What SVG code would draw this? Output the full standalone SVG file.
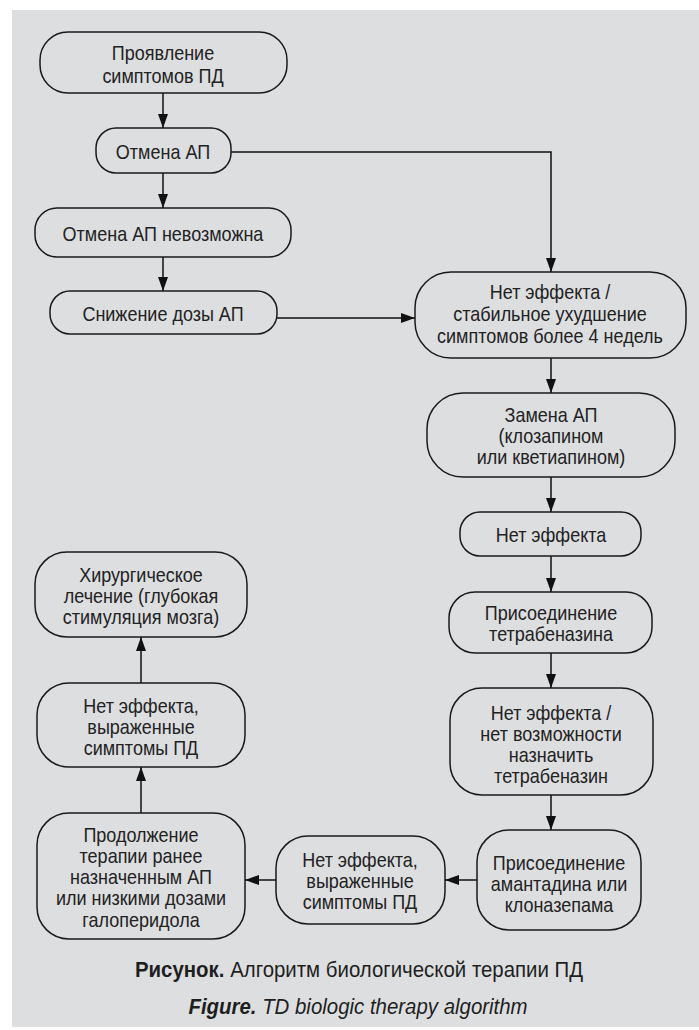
<svg xmlns="http://www.w3.org/2000/svg" width="699" height="1030" viewBox="0 0 699 1030">
<defs>
<marker id="ah" viewBox="0 0 14 10" refX="14" refY="5" markerWidth="14" markerHeight="10" markerUnits="userSpaceOnUse" orient="auto">
<path d="M0,0 L14,5 L0,10 z" fill="#111"/>
</marker>
<style>
.n{fill:#dddee0;stroke:#1a1a1a;stroke-width:1.5}
.t{font-family:"Liberation Sans",Arial,sans-serif;font-size:20px;fill:#222;text-anchor:middle}
.c{fill:none;stroke:#111;stroke-width:1.5}
.cap{font-family:"Liberation Sans",Arial,sans-serif;font-size:21.5px;fill:#1e1e1e;text-anchor:middle}
</style>
</defs>
<rect x="0" y="0" width="699" height="1030" fill="#ffffff"/>
<rect x="12" y="10" width="687" height="1017" fill="#dddee0"/>
<g id="connectors">
<path class="c" d="M163,93 V128" marker-end="url(#ah)"/>
<path class="c" d="M163,173 V208" marker-end="url(#ah)"/>
<path class="c" d="M163,257 V291" marker-end="url(#ah)"/>
<path class="c" d="M231,152 H551 V272" marker-end="url(#ah)"/>
<path class="c" d="M277,318 H415" marker-end="url(#ah)"/>
<path class="c" d="M551,358 V393" marker-end="url(#ah)"/>
<path class="c" d="M551,477 V512" marker-end="url(#ah)"/>
<path class="c" d="M551,556 V592" marker-end="url(#ah)"/>
<path class="c" d="M551,653 V688" marker-end="url(#ah)"/>
<path class="c" d="M551,795 V830" marker-end="url(#ah)"/>
<path class="c" d="M477,880 H445" marker-end="url(#ah)"/>
<path class="c" d="M276,880 H245" marker-end="url(#ah)"/>
<path class="c" d="M141,813 V767" marker-end="url(#ah)"/>
<path class="c" d="M141,683 V637" marker-end="url(#ah)"/>
</g>
<g id="n1"><rect class="n" x="40" y="32" width="247" height="61" rx="28"/>
<text class="t" transform="translate(163,0) scale(0.9,1)" y="60">Проявление</text><text class="t" transform="translate(163,0) scale(0.9,1)" y="83">симптомов ПД</text></g>
<g id="n2"><rect class="n" x="96" y="128" width="135" height="45" rx="20"/>
<text class="t" transform="translate(163,0) scale(0.9,1)" y="159">Отмена АП</text></g>
<g id="n3"><rect class="n" x="35" y="208" width="256" height="49" rx="22"/>
<text class="t" transform="translate(163,0) scale(0.9,1)" y="241">Отмена АП невозможна</text></g>
<g id="n4"><rect class="n" x="50" y="291" width="227" height="43" rx="20"/>
<text class="t" transform="translate(163,0) scale(0.9,1)" y="321">Снижение дозы АП</text></g>
<g id="n5"><rect class="n" x="415" y="272" width="271" height="86" rx="36"/>
<text class="t" transform="translate(550,0) scale(0.9,1)" y="299">Нет эффекта /</text><text class="t" transform="translate(550,0) scale(0.9,1)" y="321">стабильное ухудшение</text><text class="t" transform="translate(550,0) scale(0.9,1)" y="343">симптомов более 4 недель</text></g>
<g id="n6"><rect class="n" x="427" y="393" width="248" height="84" rx="36"/>
<text class="t" transform="translate(551,0) scale(0.9,1)" y="422">Замена АП</text><text class="t" transform="translate(551,0) scale(0.9,1)" y="443">(клозапином</text><text class="t" transform="translate(551,0) scale(0.9,1)" y="464">или кветиапином)</text></g>
<g id="n7"><rect class="n" x="460" y="512" width="181" height="44" rx="20"/>
<text class="t" transform="translate(551,0) scale(0.9,1)" y="542">Нет эффекта</text></g>
<g id="n8"><rect class="n" x="449" y="592" width="203" height="61" rx="26"/>
<text class="t" transform="translate(551,0) scale(0.9,1)" y="620">Присоединение</text><text class="t" transform="translate(551,0) scale(0.9,1)" y="641">тетрабеназина</text></g>
<g id="n9"><rect class="n" x="450" y="688" width="203" height="107" rx="32"/>
<text class="t" transform="translate(551,0) scale(0.9,1)" y="720">Нет эффекта /</text><text class="t" transform="translate(551,0) scale(0.9,1)" y="741">нет возможности</text><text class="t" transform="translate(551,0) scale(0.9,1)" y="762">назначить</text><text class="t" transform="translate(551,0) scale(0.9,1)" y="783">тетрабеназин</text></g>
<g id="n10"><rect class="n" x="477" y="830" width="164" height="100" rx="32"/>
<text class="t" transform="translate(559,0) scale(0.9,1)" y="870">Присоединение</text><text class="t" transform="translate(559,0) scale(0.9,1)" y="891">амантадина или</text><text class="t" transform="translate(559,0) scale(0.9,1)" y="912">клоназепама</text></g>
<g id="n11"><rect class="n" x="276" y="836" width="169" height="88" rx="32"/>
<text class="t" transform="translate(360,0) scale(0.9,1)" y="867">Нет эффекта,</text><text class="t" transform="translate(360,0) scale(0.9,1)" y="888">выраженные</text><text class="t" transform="translate(360,0) scale(0.9,1)" y="909">симптомы ПД</text></g>
<g id="n12"><rect class="n" x="37" y="813" width="208" height="126" rx="32"/>
<text class="t" transform="translate(141,0) scale(0.9,1)" y="842">Продолжение</text><text class="t" transform="translate(141,0) scale(0.9,1)" y="863">терапии ранее</text><text class="t" transform="translate(141,0) scale(0.9,1)" y="884">назначенным АП</text><text class="t" transform="translate(141,0) scale(0.9,1)" y="905">или низкими дозами</text><text class="t" transform="translate(141,0) scale(0.9,1)" y="927">галоперидола</text></g>
<g id="n13"><rect class="n" x="37" y="683" width="208" height="84" rx="32"/>
<text class="t" transform="translate(141,0) scale(0.9,1)" y="713">Нет эффекта,</text><text class="t" transform="translate(141,0) scale(0.9,1)" y="734">выраженные</text><text class="t" transform="translate(141,0) scale(0.9,1)" y="755">симптомы ПД</text></g>
<g id="n14"><rect class="n" x="35" y="552" width="212" height="85" rx="32"/>
<text class="t" transform="translate(141,0) scale(0.9,1)" y="582">Хирургическое</text><text class="t" transform="translate(141,0) scale(0.9,1)" y="603">лечение (глубокая</text><text class="t" transform="translate(141,0) scale(0.9,1)" y="624">стимуляция мозга)</text></g>
<g id="caption">
<text class="cap" transform="translate(359,0) scale(0.95,1)" y="977"><tspan font-weight="bold">Рисунок.</tspan> Алгоритм биологической терапии ПД</text>
<text class="cap" transform="translate(358,0) scale(0.95,1)" y="1014" font-style="italic"><tspan font-weight="bold">Figure.</tspan>  TD biologic therapy algorithm</text>
</g>
</svg>
